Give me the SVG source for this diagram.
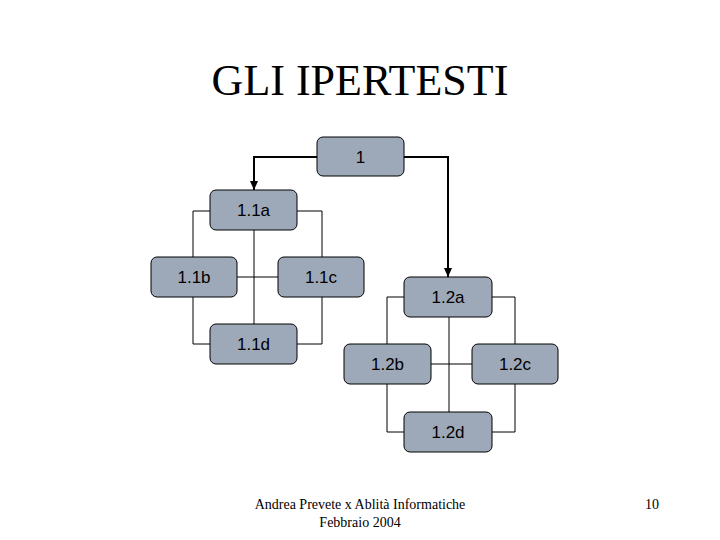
<svg xmlns="http://www.w3.org/2000/svg" width="720" height="540" viewBox="0 0 720 540">
<defs>
<marker id="ah" markerWidth="9" markerHeight="8" refX="9" refY="4" orient="auto" markerUnits="userSpaceOnUse" viewBox="0 0 9 8">
<path d="M0,0 L9,4 L0,8 Z" fill="#000"/>
</marker>
</defs>
<style>
.box{fill:#9DA9B8;stroke:#000;stroke-width:1}
.lbl{font-family:"Liberation Sans",Arial,sans-serif;font-size:17px;fill:#000;text-anchor:middle}
.c{fill:none;stroke:#000;stroke-width:1}
.a{fill:none;stroke:#000;stroke-width:2}
.t{font-family:"Liberation Serif","Times New Roman",serif;fill:#000}
</style>
<rect width="720" height="540" fill="#fff"/>
<text class="t" x="360" y="95" font-size="44" text-anchor="middle">GLI IPERTESTI</text>
<g id="connectors">
<path class="a" d="M317,157 H254 V190" marker-end="url(#ah)"/>
<path class="a" d="M404,157 H448 V277" marker-end="url(#ah)"/>
<path class="c" d="M210,211 H193 V344 H210"/>
<path class="c" d="M297,211 H322 V344 H297"/>
<path class="c" d="M254,230 V324"/>
<path class="c" d="M237,277 H278"/>
<path class="c" d="M404,297 H387 V432 H404"/>
<path class="c" d="M492,297 H515 V432 H492"/>
<path class="c" d="M449,317 V412"/>
<path class="c" d="M431,364 H472"/>
</g>
<g id="n1"><rect class="box" x="317" y="137" width="87" height="39" rx="6"/><text class="lbl" x="360.5" y="163">1</text></g>
<g id="n11a"><rect class="box" x="210" y="190" width="87" height="40" rx="6"/><text class="lbl" x="253.5" y="216">1.1a</text></g>
<g id="n11b"><rect class="box" x="151" y="257" width="86" height="40" rx="6"/><text class="lbl" x="194" y="283">1.1b</text></g>
<g id="n11c"><rect class="box" x="278" y="257" width="86" height="40" rx="6"/><text class="lbl" x="321" y="283">1.1c</text></g>
<g id="n11d"><rect class="box" x="210" y="324" width="87" height="40" rx="6"/><text class="lbl" x="253.5" y="350">1.1d</text></g>
<g id="n12a"><rect class="box" x="404" y="277" width="88" height="40" rx="6"/><text class="lbl" x="448" y="303">1.2a</text></g>
<g id="n12b"><rect class="box" x="344" y="344" width="87" height="40" rx="6"/><text class="lbl" x="387.5" y="370">1.2b</text></g>
<g id="n12c"><rect class="box" x="472" y="344" width="86" height="40" rx="6"/><text class="lbl" x="515" y="370">1.2c</text></g>
<g id="n12d"><rect class="box" x="404" y="412" width="88" height="40" rx="6"/><text class="lbl" x="448" y="438">1.2d</text></g>
<text class="t" x="360" y="509" font-size="14" text-anchor="middle">Andrea Prevete x Ablità Informatiche</text>
<text class="t" x="360" y="527" font-size="14" text-anchor="middle">Febbraio 2004</text>
<text class="t" x="652" y="509" font-size="14" text-anchor="middle">10</text>
</svg>
